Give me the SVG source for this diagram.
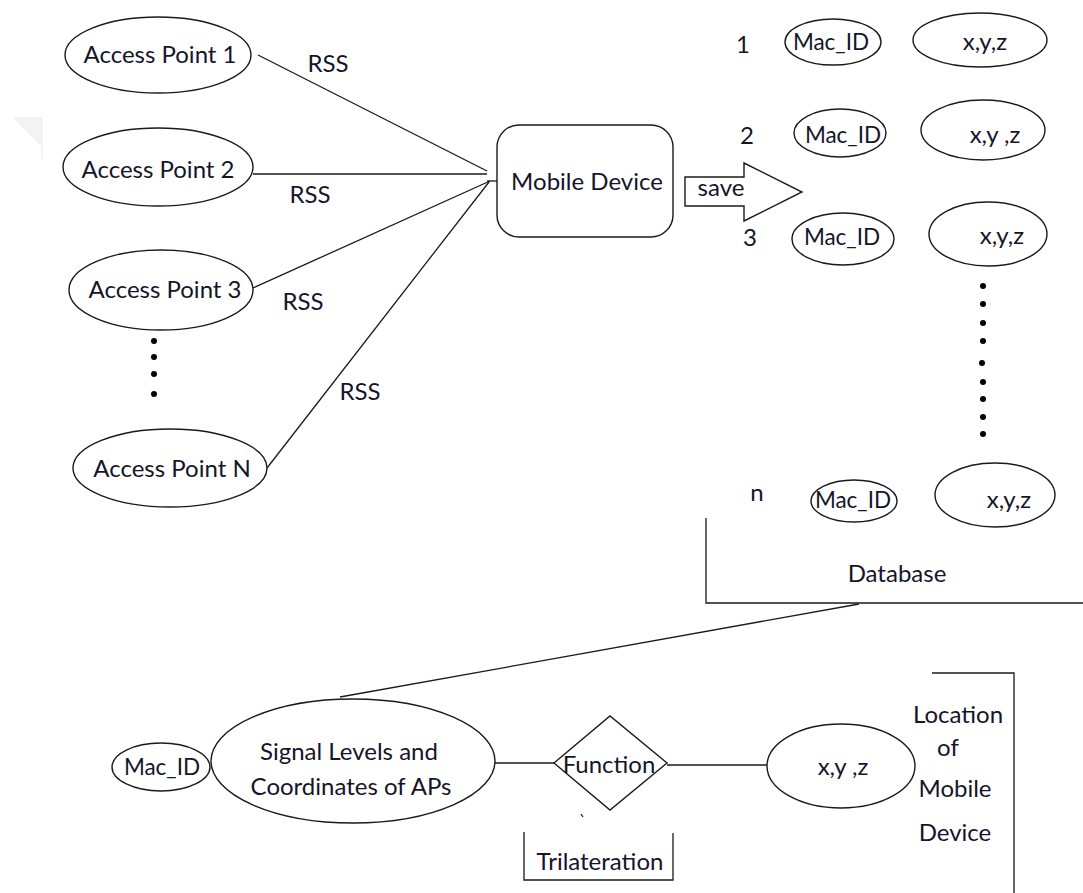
<svg xmlns="http://www.w3.org/2000/svg" width="1083" height="893" viewBox="0 0 1083 893">
<style>
.sh{fill:#fff;stroke:#1a1a1a;stroke-width:1.4}
.ln{fill:none;stroke:#1a1a1a;stroke-width:1.3}
text{font-family:Lato,"Open Sans","Liberation Sans",sans-serif;font-size:24px;fill:#15152a;text-anchor:middle}
text.m{font-size:22.5px}
.dot{fill:#000}
</style>
<rect width="1083" height="893" fill="#fff"/>
<polygon points="12,117 43,117 43,160 41,160 41,146" fill="#f3f3f3"/>
<g id="connectors">
<line class="ln" x1="258" y1="55" x2="487" y2="171"/>
<line class="ln" x1="253" y1="174" x2="487" y2="174"/>
<line class="ln" x1="253" y1="288" x2="490" y2="181"/>
<line class="ln" x1="267" y1="468" x2="489" y2="182"/>
<line class="ln" x1="487" y1="181" x2="497" y2="181"/>
<line class="ln" x1="859" y1="604" x2="340" y2="697"/>
<line class="ln" x1="495" y1="763" x2="554" y2="763"/>
<line class="ln" x1="667" y1="765" x2="767" y2="765"/>
<text x="328" y="72">RSS</text>
<text x="310" y="203">RSS</text>
<text x="303" y="310">RSS</text>
<text x="360" y="400">RSS</text>
</g>
<g id="ap1"><ellipse class="sh" cx="158" cy="55" rx="93" ry="38"/><text x="160" y="63">Access Point 1</text></g>
<g id="ap2"><ellipse class="sh" cx="158" cy="167" rx="95" ry="39"/><text x="158" y="178">Access Point 2</text></g>
<g id="ap3"><ellipse class="sh" cx="161" cy="290" rx="92" ry="40"/><text x="165" y="298">Access Point 3</text></g>
<g id="ap-dots"><circle class="dot" cx="154" cy="341" r="3"/><circle class="dot" cx="154" cy="357" r="3"/><circle class="dot" cx="154" cy="374" r="3"/><circle class="dot" cx="154" cy="394" r="3"/></g>
<g id="apn"><ellipse class="sh" cx="170" cy="468" rx="97" ry="39"/><text x="172" y="477">Access Point N</text></g>
<g id="mobile"><rect class="sh" x="497" y="125" width="176" height="112" rx="22"/><text x="587" y="190">Mobile Device</text></g>
<g id="save"><polygon class="sh" points="685,177 744,177 744,163 802,192 744,221 744,206 685,206"/><text x="721" y="196">save</text></g>
<g id="db-row1"><text x="743" y="53">1</text><ellipse class="sh" cx="833" cy="42" rx="48" ry="23"/><text class="m" x="831" y="50">Mac_ID</text><ellipse class="sh" cx="980" cy="40" rx="67" ry="27"/><text x="985" y="50">x,y,z</text></g>
<g id="db-row2"><text x="747" y="144">2</text><ellipse class="sh" cx="840" cy="133" rx="46" ry="24"/><text class="m" x="843" y="143">Mac_ID</text><ellipse class="sh" cx="983" cy="130" rx="62" ry="30"/><text x="995" y="143">x,y ,z</text></g>
<g id="db-row3"><text x="750" y="246">3</text><ellipse class="sh" cx="843" cy="239" rx="51" ry="26"/><text class="m" x="842" y="245">Mac_ID</text><ellipse class="sh" cx="988" cy="234" rx="59" ry="32"/><text x="1002" y="244">x,y,z</text></g>
<g id="db-dots"><circle class="dot" cx="983" cy="286" r="3"/><circle class="dot" cx="983" cy="304" r="3"/><circle class="dot" cx="983" cy="323" r="3"/><circle class="dot" cx="983" cy="341" r="3"/><circle class="dot" cx="982" cy="363" r="3"/><circle class="dot" cx="983" cy="382" r="3"/><circle class="dot" cx="983" cy="399" r="3"/><circle class="dot" cx="983" cy="417" r="3"/><circle class="dot" cx="983" cy="434" r="3"/></g>
<g id="db-rown"><text x="757" y="501">n</text><ellipse class="sh" cx="854" cy="501" rx="43" ry="21"/><text class="m" x="853" y="508">Mac_ID</text><ellipse class="sh" cx="995" cy="495" rx="60" ry="32"/><text x="1009" y="508">x,y,z</text></g>
<g id="database"><polyline class="ln" points="706,518 706,603 1083,603"/><text x="897" y="582">Database</text></g>
<g id="macid"><ellipse class="sh" cx="161" cy="767" rx="49" ry="24"/><text class="m" x="162" y="775">Mac_ID</text></g>
<g id="signal"><ellipse class="sh" cx="353" cy="761" rx="142" ry="62"/><text x="349" y="760">Signal Levels and</text><text x="351" y="795">Coordinates of APs</text></g>
<g id="function"><polygon class="sh" points="554,763 610,716 667,763 610,810"/><text x="609" y="773">Function</text><line class="ln" x1="581" y1="814" x2="583" y2="817"/></g>
<g id="trilateration"><polyline class="ln" points="524,832 524,880 673,880 673,833"/><text x="600" y="870">Trilateration</text></g>
<g id="xyz"><ellipse class="sh" cx="841" cy="766" rx="74" ry="42"/><text x="843" y="775">x,y ,z</text></g>
<g id="location"><polyline class="ln" points="932,673 1014,673 1014,893"/><text x="958" y="723">Location</text><text x="948" y="756">of</text><text x="955" y="797">Mobile</text><text x="955" y="841">Device</text></g>
</svg>
